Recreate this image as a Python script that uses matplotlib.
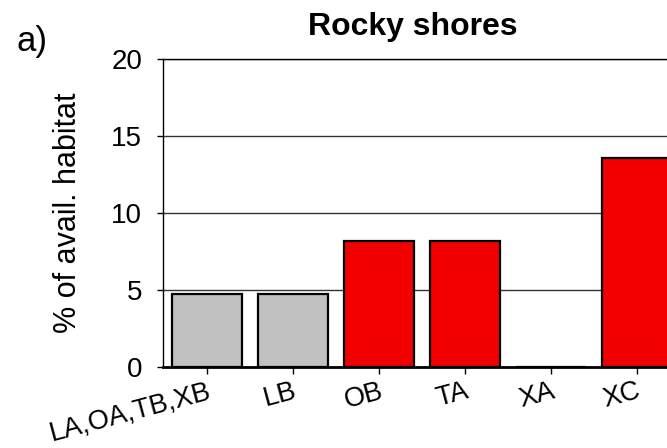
import matplotlib
matplotlib.use("Agg")
import matplotlib.pyplot as plt

categories = ["LA,OA,TB,XB", "LB", "OB", "TA", "XA", "XC"]
values = [4.76, 4.76, 8.2, 8.2, 0.0, 13.6]
bar_colors = ["#c0c0c0", "#c0c0c0", "#f20000", "#f20000", "#f20000", "#f20000"]
yticks = [0, 5, 10, 15, 20]

plt.rcParams['font.family'] = ['Liberation Sans', 'DejaVu Sans']

fig = plt.figure(figsize=(6.67, 4.48), dpi=100)
ax = fig.add_axes([163/667, 1 - 367/448, 517/667, 308/448])

x = list(range(len(categories)))
ax.bar(x, values, width=0.81, color=bar_colors, edgecolor="black", linewidth=1.6, zorder=3)

ax.set_xlim(-0.51, 5.5)
ax.set_ylim(0, 20)
ax.set_yticks(yticks)
ax.set_yticklabels([str(t) for t in yticks], fontsize=20)
ax.set_xticks(x)
ax.set_xticklabels(categories, fontsize=19.5, rotation=15, ha="right", rotation_mode="anchor")
ax.tick_params(axis="y", length=4, width=1, pad=11, direction="out")
ax.tick_params(axis="x", length=5, width=1, pad=3, direction="out")

ax.yaxis.grid(True, color="#333333", linewidth=1.0, zorder=0)
ax.set_axisbelow(True)
for s in ["left", "top"]:
    ax.spines[s].set_linewidth(1.0)
ax.spines["bottom"].set_linewidth(2.0)
ax.spines["right"].set_visible(False)

ax.set_ylabel("% of avail. habitat", fontsize=22)
ax.yaxis.set_label_coords(-(163 - 83) / 517, 0.5)

fig.text(413/667, 1 - 27/448, "Rocky shores", fontsize=23, fontweight="bold", ha="center", va="center")
fig.text(32/667, 1 - 41/448, "a)", fontsize=25, ha="center", va="center")

fig.savefig("out.png", dpi=100)
